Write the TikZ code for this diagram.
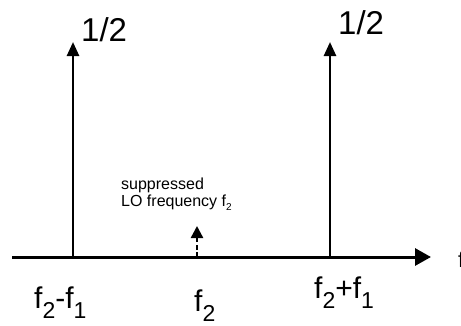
\documentclass[tikz,border=0pt]{standalone}
\usepackage{fontspec}
\setmainfont{Liberation Sans}
\usetikzlibrary{arrows.meta}
\newcommand{\bigsub}[1]{\raisebox{-10pt}{\fontsize{23}{23}\selectfont #1}}
\newcommand{\smallsub}[1]{\raisebox{-4pt}{\fontsize{10}{10}\selectfont #1}}
\tikzset{
  spike/.style={line width=2.6pt, -{Triangle[length=14pt,width=12pt]}},
  axisline/.style={line width=3pt, -{Triangle[length=16pt,width=17pt]}},
  biglabel/.style={inner sep=0pt, anchor=base west, font=\fontsize{30}{32}\selectfont},
  halflabel/.style={inner sep=0pt, anchor=base west, font=\fontsize{33}{36}\selectfont},
  notelabel/.style={inner sep=0pt, anchor=base west, font=\fontsize{16}{18}\selectfont, align=left}
}
\begin{document}
\begin{tikzpicture}[x=1pt,y=-1pt]
\useasboundingbox (0,0) rectangle (461,325);
\coordinate (a0) at (12,257);
\coordinate (a1) at (431,257);
\coordinate (l0) at (73,257);
\coordinate (l1) at (73,42);
\coordinate (r0) at (330,257);
\coordinate (r1) at (330,42);
\coordinate (m0) at (197,257);
\coordinate (m1) at (197,226);
\draw[axisline] (a0) -- (a1);
\draw[spike] (l0) -- (l1);
\draw[spike] (r0) -- (r1);
\draw[line width=2.4pt, dash pattern=on 5pt off 2.5pt, -{Triangle[length=12pt,width=12pt]}] (m0) -- (m1);
\node[halflabel] (hl) at (81,41) {1/2};
\node[halflabel] (hr) at (338,34) {1/2};
\node[notelabel] (s1) at (121,189) {suppressed};
\node[notelabel] (s2) at (121,206) {LO frequency f\smallsub{2}};
\node[biglabel] (b1) at (34,308) {f\bigsub{2}-f\bigsub{1}};
\node[biglabel] (b2) at (314,298) {f\bigsub{2}+f\bigsub{1}};
\node[biglabel] (b3) at (194,311) {f\bigsub{2}};
\node[inner sep=0pt, anchor=base west, font=\fontsize{22}{24}\selectfont] (fx) at (458,267) {f};
\end{tikzpicture}
\end{document}
